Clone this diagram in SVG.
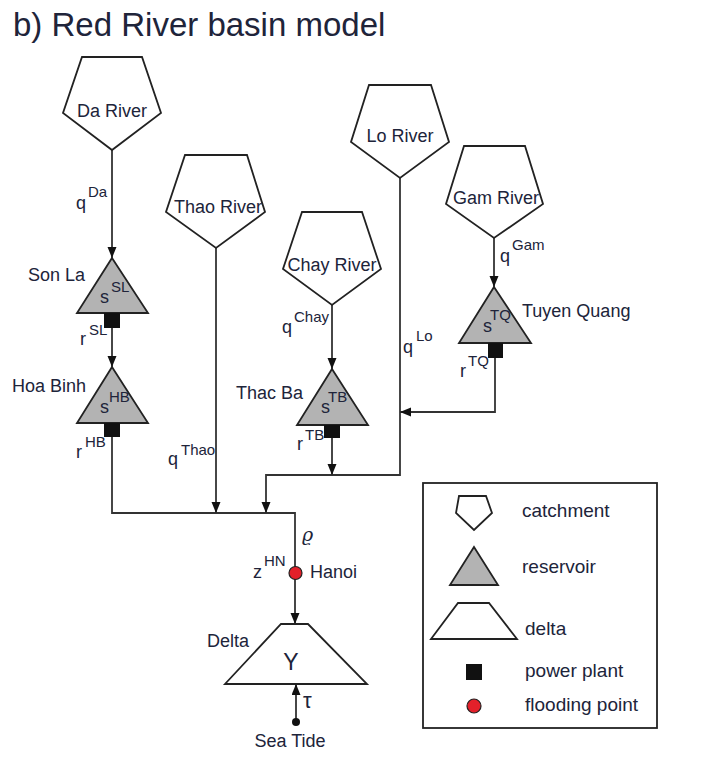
<svg xmlns="http://www.w3.org/2000/svg" width="705" height="775" viewBox="0 0 705 775">
<style>
text{font-family:"Liberation Sans","DejaVu Sans",sans-serif;fill:#20243a}
.lbl{font-size:18px}
.sup{font-size:15px}
.leg{font-size:19px}
.pent{fill:#fff;stroke:#222;stroke-width:1.8}
.res{fill:#b3b3b3;stroke:#222;stroke-width:1.8}
.pp{fill:#111}
.con{fill:none;stroke:#333;stroke-width:1.8}
</style>
<defs>
<marker id="ah" markerUnits="userSpaceOnUse" markerWidth="11" markerHeight="10" refX="11" refY="4.5" orient="auto">
<path d="M0,0 L11,4.5 L0,9 z" fill="#111"/>
</marker>
</defs>
<rect width="705" height="775" fill="#fff"/>
<text x="13" y="36" style="font-size:33px">b) Red River basin model</text>

<g id="connectors">
<path class="con" d="M112,150 V258" marker-end="url(#ah)"/>
<path class="con" d="M112,328 V367" marker-end="url(#ah)"/>
<path class="con" d="M112,437 V513 H295 V624" marker-end="url(#ah)"/>
<path class="con" d="M216,248 V513" marker-end="url(#ah)"/>
<path class="con" d="M400,178 V475 H266 V513" marker-end="url(#ah)"/>
<path class="con" d="M332,305 V369" marker-end="url(#ah)"/>
<path class="con" d="M332,438 V475" marker-end="url(#ah)"/>
<path class="con" d="M494,238 V287" marker-end="url(#ah)"/>
<path class="con" d="M495,358 V412 H400" marker-end="url(#ah)"/>
<path class="con" d="M296,722 V684" marker-end="url(#ah)"/>
<text class="lbl" x="76" y="209">q</text><text class="sup" x="88" y="197">Da</text>
<text class="lbl" x="80" y="345">r</text><text class="sup" x="89" y="335">SL</text>
<text class="lbl" x="76" y="458">r</text><text class="sup" x="85" y="447">HB</text>
<text class="lbl" x="168" y="465">q</text><text class="sup" x="181" y="455">Thao</text>
<text class="lbl" x="282" y="333">q</text><text class="sup" x="294" y="322">Chay</text>
<text class="lbl" x="297" y="450">r</text><text class="sup" x="305" y="440">TB</text>
<text class="lbl" x="403" y="353">q</text><text class="sup" x="416" y="341">Lo</text>
<text class="lbl" x="500" y="262">q</text><text class="sup" x="512" y="250">Gam</text>
<text class="lbl" x="460" y="377">r</text><text class="sup" x="468" y="366">TQ</text>
<text x="302" y="541" style="font-size:19px;font-family:'DejaVu Serif',serif;font-style:italic">ϱ</text>
<text x="303" y="708" style="font-size:22px">τ</text>
</g>

<g id="da-river">
<polygon class="pent" points="82,57 142,57 161,113 112,150 63,113"/>
<text class="lbl" x="112" y="117" text-anchor="middle">Da River</text>
</g>
<g id="thao-river">
<polygon class="pent" points="185,155 247,155 265,212 216,248 166,212"/>
<text class="lbl" x="218" y="213" text-anchor="middle">Thao River</text>
</g>
<g id="chay-river">
<polygon class="pent" points="302,212 362,212 381,269 332,305 283,269"/>
<text class="lbl" x="332" y="271" text-anchor="middle">Chay River</text>
</g>
<g id="lo-river">
<polygon class="pent" points="369,85 431,85 449,142 400,178 351,142"/>
<text class="lbl" x="400" y="142" text-anchor="middle">Lo River</text>
</g>
<g id="gam-river">
<polygon class="pent" points="464,146 525,146 543,204 494,238 446,204"/>
<text class="lbl" x="496" y="204" text-anchor="middle">Gam River</text>
</g>

<g id="son-la">
<polygon class="res" points="112,258 148,313 77,313"/>
<rect class="pp" x="104" y="313" width="16" height="15"/>
<text class="lbl" x="28" y="281">Son La</text>
<text class="lbl" x="100" y="303">s</text><text class="sup" x="111" y="292">SL</text>
</g>
<g id="hoa-binh">
<polygon class="res" points="112,367 148,423 77,423"/>
<rect class="pp" x="104" y="423" width="16" height="14"/>
<text class="lbl" x="12" y="392">Hoa Binh</text>
<text class="lbl" x="100" y="413">s</text><text class="sup" x="109" y="402">HB</text>
</g>
<g id="thac-ba">
<polygon class="res" points="332,369 368,425 297,425"/>
<rect class="pp" x="324" y="425" width="16" height="13"/>
<text class="lbl" x="236" y="399">Thac Ba</text>
<text class="lbl" x="321" y="413">s</text><text class="sup" x="328" y="402">TB</text>
</g>
<g id="tuyen-quang">
<polygon class="res" points="494,287 531,343 459,343"/>
<rect class="pp" x="488" y="343" width="15" height="15"/>
<text class="lbl" x="522" y="317">Tuyen Quang</text>
<text class="lbl" x="483" y="332">s</text><text class="sup" x="490" y="320">TQ</text>
</g>

<g id="hanoi">
<circle cx="295.5" cy="573" r="6.5" fill="#e3202a" stroke="#222" stroke-width="1.2"/>
<text class="lbl" x="253" y="578">z</text><text class="sup" x="264" y="566">HN</text>
<text class="lbl" x="310" y="578">Hanoi</text>
</g>
<g id="delta">
<polygon class="pent" points="281,624 308,624 367,684 225,684"/>
<text class="lbl" x="207" y="647">Delta</text>
<text x="291" y="670" text-anchor="middle" style="font-size:23px">Υ</text>
</g>
<g id="sea-tide">
<circle cx="296" cy="722" r="4" fill="#111"/>
<text class="lbl" x="290" y="747" text-anchor="middle">Sea Tide</text>
</g>

<g id="legend">
<rect x="423" y="483" width="234" height="245" fill="#fff" stroke="#222" stroke-width="1.8"/>
<polygon class="pent" points="459,496 486,496 492,513 474,530 456,513"/>
<text class="leg" x="522" y="517">catchment</text>
<polygon class="res" points="474,547 498,585 450,585"/>
<text class="leg" x="522" y="573">reservoir</text>
<polygon class="pent" points="458,603 489,603 517,639 431,639"/>
<text class="leg" x="525" y="635">delta</text>
<rect class="pp" x="466" y="664" width="16" height="16"/>
<text class="leg" x="525" y="677">power plant</text>
<circle cx="474" cy="706" r="7" fill="#e3202a" stroke="#222" stroke-width="1.2"/>
<text class="leg" x="525" y="711">flooding point</text>
</g>
</svg>
